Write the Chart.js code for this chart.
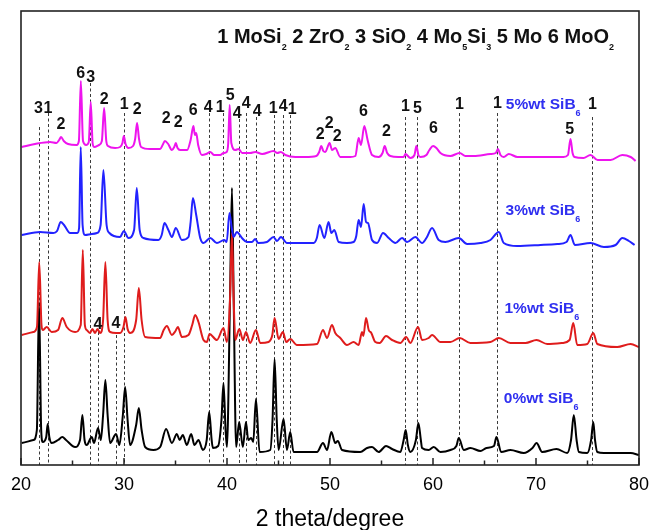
<!DOCTYPE html>
<html>
<head>
<meta charset="utf-8">
<script src="https://cdn.jsdelivr.net/npm/chart.js@4.4.1/dist/chart.umd.min.js"></script>
<style>
  html, body { margin: 0; padding: 0; background: #fff; }
  canvas { display: block; }
</style>
</head>
<body>
<canvas id="xrd" width="660" height="530"></canvas>
<script>
// XRD patterns of MoSi2-based samples with increasing SiB6 content.
// Each pattern is a list of [2theta (deg), intensity (a.u., stacked)].
const sib5 = [[20.07,318],[21.36,321],[22.82,323],[23.45,322],[23.70,325],[23.89,328],[24.15,324],[24.57,321],[25.41,320],[25.62,324],[25.81,384],[26.02,324],[26.32,320],[26.58,323],[26.77,363],[26.95,322],[27.09,318],[27.58,320],[27.85,324],[28.07,357],[28.28,324],[28.45,319],[29.14,317],[29.62,318],[29.85,322],[29.98,329],[30.15,321],[30.43,317],[30.88,319],[31.08,326],[31.27,342],[31.46,326],[31.66,318],[32.54,316],[33.51,316],[33.75,320],[33.97,324],[34.29,321],[34.65,315],[34.88,318],[35.03,322],[35.20,317],[35.45,315],[36.13,315],[36.47,325],[36.74,339],[36.88,330],[37.01,332],[37.20,320],[37.56,310],[37.98,311],[38.37,313],[38.76,310],[39.34,310],[39.66,312],[39.97,313],[40.12,322],[40.26,360],[40.42,322],[40.80,315],[41.12,316],[41.48,312],[42.25,312],[42.74,313],[43.42,311],[44.52,314],[44.88,312],[45.22,313],[45.66,310],[46.63,308],[47.60,308],[48.67,309],[48.95,313],[49.15,319],[49.35,314],[49.54,313],[49.96,322],[50.20,315],[50.35,316],[50.51,317],[51.00,308],[51.97,308],[52.46,309],[52.78,327],[53.01,320],[53.33,339],[53.65,325],[54.08,310],[54.72,308],[55.10,312],[55.31,319],[55.55,312],[55.86,309],[56.64,308],[57.15,308],[57.32,311],[57.80,307],[58.20,310],[58.39,319],[58.58,310],[58.78,308],[59.36,310],[59.65,315],[60.01,319],[60.33,317],[60.72,312],[61.69,309],[62.59,312],[63.15,309],[63.96,309],[65.58,311],[66.10,312],[66.30,316],[66.55,310],[66.87,308],[67.36,311],[68.20,308],[69.47,308],[70.92,308],[72.67,308],[73.10,310],[73.35,326],[73.55,312],[73.74,308],[74.61,307],[75.29,310],[75.98,305],[77.24,305],[78.38,310],[79.19,308],[79.67,304]];

const sib3 = [[20.07,230],[21.85,233],[23.14,232],[23.50,234],[23.86,243],[24.18,240],[24.76,232],[25.47,232],[25.64,237],[25.80,318],[25.98,240],[26.22,230],[26.87,231],[27.39,232],[27.73,240],[28.00,295],[28.31,240],[28.58,232],[29.62,228],[29.98,234],[30.43,227],[30.98,235],[31.24,277],[31.52,235],[31.89,227],[33.34,225],[33.66,230],[33.93,242],[34.31,235],[34.65,228],[35.03,237],[35.62,225],[36.26,228],[36.47,243],[36.69,267],[37.01,250],[37.40,227],[37.72,222],[38.37,227],[39.02,222],[39.73,225],[39.97,223],[40.24,252],[40.46,237],[40.63,228],[40.96,233],[41.45,227],[41.93,223],[42.42,223],[42.74,226],[43.03,222],[43.88,223],[44.52,228],[44.85,224],[45.24,228],[45.82,222],[47.11,222],[48.41,222],[48.72,227],[48.99,240],[49.45,227],[49.86,243],[50.13,232],[50.42,235],[50.84,223],[51.65,222],[52.29,223],[52.55,229],[52.78,245],[53.01,238],[53.27,261],[53.50,243],[53.69,242],[54.08,225],[54.57,222],[55.15,232],[55.70,227],[56.35,222],[57.00,227],[57.48,223],[58.29,228],[58.94,222],[59.36,227],[59.91,237],[60.55,225],[61.20,223],[62.50,227],[63.31,221],[64.61,222],[65.58,225],[66.39,233],[66.87,222],[68.17,219],[70.44,220],[72.06,221],[72.96,223],[73.35,230],[73.77,220],[75.29,222],[76.59,218],[77.73,220],[78.38,227],[79.02,224],[79.57,220]];

const sib1 = [[20.07,130],[21.20,133],[21.55,138],[21.77,203],[21.99,140],[22.11,135],[22.50,138],[22.98,133],[23.60,135],[24.01,147],[24.44,138],[25.25,133],[25.80,140],[26.00,215],[26.20,140],[26.38,135],[26.71,132],[26.93,136],[27.19,132],[27.42,136],[27.68,132],[27.97,145],[28.19,203],[28.41,145],[28.65,133],[29.23,132],[29.62,132],[29.95,138],[30.14,148],[30.35,136],[30.59,132],[31.18,145],[31.44,177],[31.71,145],[32.05,128],[33.51,127],[33.85,135],[34.16,139],[34.65,130],[35.00,134],[35.23,138],[35.62,128],[36.26,130],[36.62,140],[36.91,150],[37.23,143],[37.72,125],[38.05,123],[38.30,131],[39.02,125],[39.66,137],[39.99,123],[40.29,165],[40.48,232],[40.65,165],[40.80,125],[41.19,136],[41.55,125],[41.84,133],[42.25,122],[42.81,135],[43.23,122],[44.03,123],[44.40,130],[44.62,147],[45.01,126],[45.43,133],[45.75,123],[46.14,126],[46.79,120],[48.74,121],[49.32,135],[49.71,127],[50.19,140],[50.51,132],[51.00,127],[51.65,120],[52.29,123],[52.78,120],[53.11,133],[53.24,129],[53.50,147],[53.76,135],[54.01,132],[54.40,123],[54.82,122],[55.44,129],[56.03,125],[56.83,122],[57.39,128],[57.80,122],[58.55,138],[58.94,125],[59.58,127],[59.91,130],[60.72,123],[61.69,123],[62.59,127],[63.63,122],[65.58,123],[66.39,127],[67.52,122],[68.98,122],[70.05,125],[71.09,121],[72.55,122],[73.26,125],[73.62,142],[74.00,120],[74.98,121],[75.56,132],[75.95,121],[77.89,118],[79.19,121],[79.99,118]];

const sib0 = [[20.07,22],[21.20,25],[21.54,35],[21.75,163],[21.96,35],[22.11,23],[22.45,28],[22.59,41],[22.75,28],[22.98,22],[23.60,25],[24.01,28],[24.37,25],[25.25,18],[25.73,25],[25.96,50],[26.17,25],[26.38,20],[26.87,28],[27.09,22],[27.48,37],[27.75,25],[27.97,50],[28.19,85],[28.41,50],[28.65,22],[29.23,31],[29.55,20],[29.89,50],[30.11,78],[30.35,45],[30.59,20],[31.18,40],[31.44,57],[31.71,35],[32.05,18],[32.86,15],[33.51,18],[34.09,36],[34.65,22],[35.13,31],[35.40,25],[35.71,30],[36.10,20],[36.52,31],[36.84,20],[37.23,25],[37.66,15],[38.03,25],[38.27,53],[38.51,25],[38.63,17],[39.14,19],[39.46,45],[39.66,82],[39.86,35],[39.99,18],[40.29,165],[40.48,277],[40.65,165],[40.89,18],[41.18,43],[41.54,18],[41.84,43],[42.06,25],[42.35,27],[42.55,23],[42.81,66],[43.16,13],[44.20,15],[44.42,45],[44.62,106],[44.83,45],[45.01,15],[45.49,46],[45.82,15],[46.14,33],[46.46,13],[48.74,13],[49.32,22],[49.71,15],[50.13,33],[50.51,22],[50.76,24],[51.17,15],[52.94,13],[53.60,17],[54.08,18],[54.72,13],[55.44,19],[56.03,16],[56.83,13],[57.15,25],[57.35,35],[57.56,20],[57.80,13],[58.34,25],[58.58,42],[58.82,25],[58.94,17],[59.58,15],[60.07,18],[60.72,13],[61.69,15],[62.27,19],[62.50,27],[62.99,15],[63.63,17],[64.61,14],[65.19,17],[65.92,19],[66.16,28],[66.62,13],[67.52,15],[68.81,12],[69.66,17],[70.05,22],[70.60,13],[71.99,16],[73.03,12],[73.40,25],[73.67,50],[73.94,25],[74.16,13],[74.98,12],[75.35,25],[75.56,43],[75.73,25],[75.95,13],[76.59,12],[77.89,12],[79.19,12],[79.99,10]];

// Reference peak positions (dashed markers) and the intensity where each marker stops
const markerTheta = [21.75, 22.62, 26.70, 27.45, 29.22, 30.03, 38.28, 39.64, 41.13, 41.82, 42.79, 44.56, 45.44, 46.12, 57.28, 58.45, 62.52, 66.24, 75.47];
const markerTop   = [338, 352, 382, 133, 130, 352, 352, 352, 346, 352, 348, 350, 350, 350, 348, 348, 352, 352, 348];

// Phase index tags: text, 2theta, intensity (label centre)
const tagText  = ['3','1','2','6','3','2','1','2','2','2','6','4','1','5','4','4','4','1','4','1','2','2','2','6','2','1','5','6','1','1','1','5','4','4'];
const tagTheta = [21.70,22.62,23.89,25.80,26.77,28.07,30.01,31.27,34.09,35.26,36.72,38.17,39.34,40.31,40.99,41.87,42.94,44.49,45.46,46.34,49.06,49.93,50.71,53.24,55.47,57.32,58.48,60.04,62.57,66.26,75.49,73.26,27.48,29.23];
const tagInt   = [358,358,342,393,389,367,362,357,348,344,356,359,359,371,353,363,355,358,360,357,332,343,330,355,335,360,358,338,362,363,362,337,142,143];

// Sample names (base text + subscript), anchored at left/baseline
const sampleNames = ['5%wt SiB', '3%wt SiB', '1%wt SiB', '0%wt SiB'];
const sampleSub   = ['6', '6', '6', '6'];
const sampleTheta = [67.07, 67.04, 66.94, 66.87];
const sampleInt   = [356, 250, 152, 62];

// Phase key: runs of [text, isSubscript]
const phaseKey = [['1 MoSi',0],['2',1],[' 2 ZrO',0],['2',1],[' 3 SiO',0],['2',1],[' 4 Mo',0],['5',1],['Si',0],['3',1],[' 5 Mo 6 MoO',0],['2',1]];
const phaseKeyTheta = 39.05;
const phaseKeyInt = 422;

const xTicksMajor = [20, 30, 40, 50, 60, 70, 80];
const xTicksMinor = [25, 35, 45, 55, 65, 75];
const xTitle = '2 theta/degree';

const FONT = '"Liberation Sans", Arial, Helvetica, sans-serif';

function drawRuns(ctx, runs, x, y, mainSize, subSize, subDrop, color) {
  ctx.fillStyle = color;
  ctx.textAlign = 'left';
  ctx.textBaseline = 'alphabetic';
  let cx = x;
  for (const [t, sub] of runs) {
    ctx.font = 'bold ' + (sub ? subSize : mainSize) + 'px ' + FONT;
    ctx.fillText(t, cx, sub ? y + subDrop : y);
    cx += ctx.measureText(t).width;
  }
}

const decorations = {
  id: 'decorations',
  beforeDatasetsDraw(chart) {
    const { ctx, scales: { x, y } } = chart;
    ctx.save();
    ctx.strokeStyle = '#3a3a3a';
    ctx.lineWidth = 1;
    ctx.setLineDash([3, 2.5]);
    markerTheta.forEach((t, i) => {
      const px = Math.round(x.getPixelForValue(t)) + 0.5;
      ctx.beginPath();
      ctx.moveTo(px, y.getPixelForValue(markerTop[i]));
      ctx.lineTo(px, y.getPixelForValue(0));
      ctx.stroke();
    });
    ctx.restore();
  },
  afterDatasetsDraw(chart) {
    const { ctx, chartArea: a, scales: { x, y } } = chart;
    ctx.save();
    // frame
    ctx.strokeStyle = '#222';
    ctx.lineWidth = 1.6;
    ctx.strokeRect(a.left, a.top, a.right - a.left, a.bottom - a.top);
    // inward ticks
    ctx.lineWidth = 1.5;
    xTicksMajor.forEach(v => {
      const px = x.getPixelForValue(v);
      ctx.beginPath(); ctx.moveTo(px, a.bottom); ctx.lineTo(px, a.bottom - 7); ctx.stroke();
    });
    xTicksMinor.forEach(v => {
      const px = x.getPixelForValue(v);
      ctx.beginPath(); ctx.moveTo(px, a.bottom); ctx.lineTo(px, a.bottom - 4.5); ctx.stroke();
    });
    // axis title
    ctx.fillStyle = '#000';
    ctx.font = '23px ' + FONT;
    ctx.textAlign = 'center';
    ctx.textBaseline = 'alphabetic';
    ctx.fillText(xTitle, (a.left + a.right) / 2, a.bottom + 61);
    // phase tags
    ctx.fillStyle = '#111';
    ctx.font = 'bold 16px ' + FONT;
    tagText.forEach((t, i) => {
      ctx.fillText(t, x.getPixelForValue(tagTheta[i]), y.getPixelForValue(tagInt[i]) + 5.7);
    });
    // sample names
    sampleNames.forEach((n, i) => {
      drawRuns(ctx, [[n, 0], [sampleSub[i], 1]], x.getPixelForValue(sampleTheta[i]), y.getPixelForValue(sampleInt[i]), 15.5, 9, 7.4, '#2f2ff0');
    });
    // phase key
    drawRuns(ctx, phaseKey, x.getPixelForValue(phaseKeyTheta), y.getPixelForValue(phaseKeyInt), 20, 9, 7.3, '#111');
    ctx.restore();
  }
};

const toXY = arr => arr.map(([t, v]) => ({ x: t, y: v }));

new Chart(document.getElementById('xrd'), {
  type: 'line',
  data: {
    datasets: [
      { label: '5%wt SiB6', data: toXY(sib5), borderColor: '#ee14ee' },
      { label: '3%wt SiB6', data: toXY(sib3), borderColor: '#2222ff' },
      { label: '1%wt SiB6', data: toXY(sib1), borderColor: '#df1c1c' },
      { label: '0%wt SiB6', data: toXY(sib0), borderColor: '#000000' }
    ]
  },
  options: {
    responsive: false,
    animation: false,
    layout: { padding: { left: 21, right: 21, top: 11, bottom: 0 } },
    elements: {
      point: { radius: 0 },
      line: { borderWidth: 2, cubicInterpolationMode: 'monotone', fill: false }
    },
    plugins: { legend: { display: false }, tooltip: { enabled: false } },
    scales: {
      x: {
        type: 'linear', min: 20, max: 80,
        ticks: { stepSize: 10, color: '#000', padding: 9, maxRotation: 0, font: { family: FONT, size: 18 } },
        grid: { display: false, drawTicks: false },
        border: { display: false },
        title: { display: false },
        afterFit(scale) { scale.height = 65; }
      },
      y: { display: false, min: 0, max: 454 }
    }
  },
  plugins: [decorations]
});
</script>
</body>
</html>
